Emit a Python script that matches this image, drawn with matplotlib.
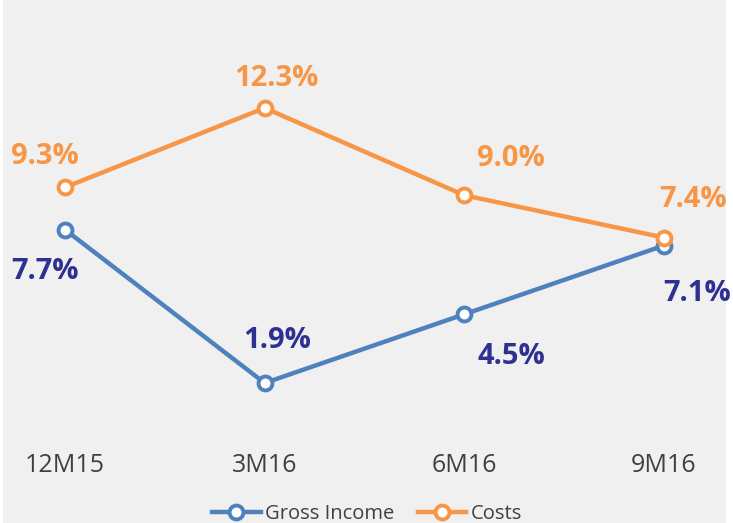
import matplotlib.pyplot as plt
from matplotlib.patches import Rectangle

periods = ['12M15', '3M16', '6M16', '9M16']
gross_income = [7.7, 1.9, 4.5, 7.1]
costs = [9.3, 12.3, 9.0, 7.4]

blue = '#4F81BD'
orange = '#F79646'
navy = '#2E3192'
bg = '#F0F0F0'

plt.rcParams['font.family'] = ['Open Sans', 'DejaVu Sans']

W, H = 733, 523
fig = plt.figure(figsize=(W / 100, H / 100), dpi=100, facecolor='white')

ax = fig.add_axes([0, 0, 1, 1])
ax.set_facecolor('none')
# gray panel (white strips at the left and right edges)
ax.add_patch(Rectangle((3 / W, 0), 723 / W, 1, transform=ax.transAxes,
                       facecolor=bg, edgecolor='none', zorder=0))
x = list(range(len(periods)))

# pixel mapping: x=0 at 65px, x=3 at 664px; y=12.3 at 108px, y=1.9 at 383px
xu = (664 - 65) / 3
yu = (383 - 108) / (12.3 - 1.9)
ax.set_xlim(-65 / xu, 3 + (W - 664) / xu)
ax.set_ylim(12.3 - (H - 108) / yu, 12.3 + 108 / yu)
ax.axis('off')

mk = dict(marker='o', markersize=10, markerfacecolor='white', markeredgewidth=2.8)
ax.plot(x, gross_income, color=blue, lw=3.2, label='Gross Income', **mk, zorder=3)
ax.plot(x, costs, color=orange, lw=3.2, label='Costs', **mk, zorder=4)

# label offsets in pixels (dx, dy)
cost_off = [(-20, 31), (12, 30), (47, 37), (29, 38)]
gi_off = [(-20, -42), (12, 42), (47, -42), (33, -48)]
for i in x:
    ax.annotate(f'{costs[i]:.1f}%', (i, costs[i]), xytext=(cost_off[i][0] * 0.72, cost_off[i][1] * 0.72),
                textcoords='offset points', ha='center', va='center',
                fontsize=21, fontweight='bold', color=orange)
    ax.annotate(f'{gross_income[i]:.1f}%', (i, gross_income[i]), xytext=(gi_off[i][0] * 0.72, gi_off[i][1] * 0.72),
                textcoords='offset points', ha='center', va='center',
                fontsize=21, fontweight='bold', color=navy)

for i, p in enumerate(periods):
    ax.text(i, 12.3 - (466 - 108) / yu, p, ha='center', va='center',
            fontsize=18, color='#404040')

fig.legend(loc='center', bbox_to_anchor=(367 / W, 1 - 514 / H), ncol=2, frameon=False,
           fontsize=14.5, handlelength=2.4, handletextpad=0.2, columnspacing=1.2,
           labelcolor='#404040')

fig.savefig('out.png', dpi=100, facecolor=fig.get_facecolor())
